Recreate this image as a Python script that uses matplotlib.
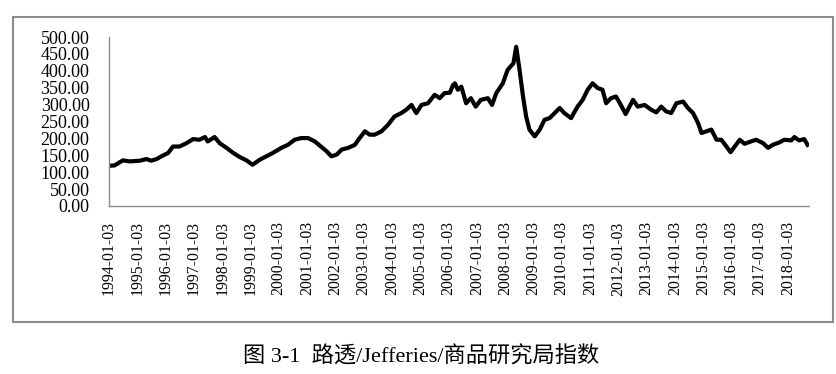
import matplotlib
matplotlib.use('Agg')
import matplotlib.pyplot as plt
from matplotlib.patches import Rectangle
import pandas as pd

# index readings (approximate)
dates = ['1994-01-03', '1994-03-15', '1994-07-01', '1994-09-27', '1995-02-06', '1995-05-01',
         '1995-07-01', '1995-09-12', '1995-11-10', '1996-02-06', '1996-04-08', '1996-07-01',
         '1996-10-01', '1996-12-24', '1997-03-15', '1997-05-26', '1997-07-01', '1997-09-27',
         '1997-12-01', '1998-02-28', '1998-05-26', '1998-08-18', '1998-11-13', '1999-01-30',
         '1999-05-04', '1999-07-27', '1999-10-19', '2000-02-06', '2000-05-01', '2000-07-27',
         '2000-10-19', '2001-01-16', '2001-04-13', '2001-07-01', '2001-09-12', '2001-11-13',
         '2002-01-20', '2002-03-26', '2002-06-18', '2002-09-12', '2002-11-13', '2003-01-20',
         '2003-03-22', '2003-05-26', '2003-08-22', '2003-11-13', '2004-02-06', '2004-05-04',
         '2004-07-08', '2004-09-12', '2004-11-13', '2005-01-20', '2005-04-13', '2005-07-08',
         '2005-09-12', '2005-11-13', '2006-01-20', '2006-03-03', '2006-03-26', '2006-05-04',
         '2006-06-18', '2006-08-18', '2006-10-19', '2006-12-20', '2007-02-24', '2007-05-26',
         '2007-07-19', '2007-09-12', '2007-12-05', '2008-02-06', '2008-04-20', '2008-05-26',
         '2008-07-08', '2008-08-22', '2008-10-01', '2008-11-13', '2009-01-20', '2009-03-26',
         '2009-05-26', '2009-07-31', '2009-10-04', '2009-12-09', '2010-02-06', '2010-05-04',
         '2010-07-27', '2010-10-01', '2010-12-05', '2011-02-06', '2011-04-13', '2011-06-14',
         '2011-07-31', '2011-10-01', '2011-12-05', '2012-02-06', '2012-04-08', '2012-07-12',
         '2012-09-12', '2012-12-09', '2013-03-03', '2013-05-08', '2013-07-12', '2013-09-12',
         '2013-11-17', '2014-01-23', '2014-04-20', '2014-06-21', '2014-08-26', '2014-10-31',
         '2014-12-13', '2015-02-15', '2015-04-20', '2015-06-25', '2015-08-26', '2015-10-31',
         '2015-12-24', '2016-02-15', '2016-04-20', '2016-06-21', '2016-09-12', '2016-11-17',
         '2017-02-15', '2017-04-20', '2017-06-21', '2017-09-12', '2017-11-17', '2018-02-15',
         '2018-03-26', '2018-05-26', '2018-07-31', '2018-09-12']
values = [119, 120, 135, 132, 134, 139,
          134, 139, 147, 157, 176, 176,
          186, 198, 196, 204, 191, 204,
          186, 172, 157, 145, 135, 122,
          137, 147, 157, 172, 181, 196,
          201, 201, 191, 176, 162, 147,
          152, 167, 172, 181, 201, 221,
          211, 211, 221, 240, 265, 275,
          285, 299, 275, 299, 304, 329,
          319, 334, 335, 358, 363, 344,
          353, 304, 319, 294, 314, 319,
          299, 334, 363, 403, 422, 471,
          403, 324, 265, 226, 206, 226,
          255, 260, 275, 290, 275, 260,
          294, 314, 344, 363, 349, 344,
          304, 319, 324, 299, 272, 314,
          294, 299, 285, 277, 294, 280,
          275, 304, 309, 290, 275, 245,
          216, 221, 226, 196, 196, 176,
          159, 176, 196, 184, 191, 196,
          186, 172, 181, 188, 196, 194,
          204, 194, 198, 181]

tick_years = list(range(1994, 2019))
tick_labels = [f'{y}-01-03' for y in tick_years]
caption = '图 3-1  路透/Jefferies/商品研究局指数'

serif = ['Liberation Serif', 'Noto Sans CJK SC']

x = pd.to_datetime(dates)
ticks = pd.to_datetime(tick_labels)

fig = plt.figure(figsize=(8.37, 3.74), dpi=100)
fig.patch.set_facecolor('white')

# outer frame
fig.patches.append(Rectangle((13 / 837, 1 - 322 / 374), 820 / 837, 305 / 374,
                             transform=fig.transFigure, fill=False,
                             edgecolor='#8c8c8c', linewidth=1.5))

ax = fig.add_axes([109 / 837, 1 - 206 / 374, 700 / 837, 169 / 374])
ax.plot(x, values, color='black', linewidth=3.0, solid_joinstyle='round')

ax.set_ylim(0, 500)
ax.set_yticks(range(0, 501, 50))
ax.set_yticklabels([f'{v:.2f}' for v in range(0, 501, 50)], family=serif, fontsize=13)
ax.set_xlim(pd.Timestamp('1994-01-03'), pd.Timestamp('2018-10-01'))
ax.set_xticks(ticks)
ax.set_xticklabels(tick_labels, rotation=90, family=serif, fontsize=11.3)
ax.tick_params(axis='y', length=0, pad=14)
ax.tick_params(axis='x', length=0, pad=11)

for side in ['top', 'right']:
    ax.spines[side].set_visible(False)
for side in ['left', 'bottom']:
    ax.spines[side].set_color('#8c8c8c')
    ax.spines[side].set_linewidth(1.0)

fig.text(421 / 837, 1 - 357 / 374, caption, ha='center', va='center',
         family=serif, fontsize=16)

fig.savefig('out.png', dpi=100, facecolor='white')
